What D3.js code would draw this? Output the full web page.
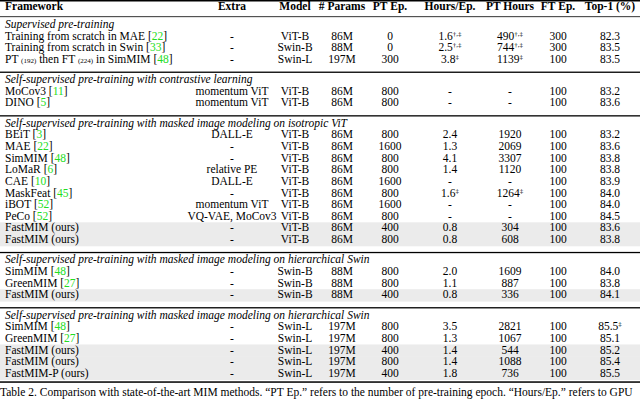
<!DOCTYPE html><html><head><meta charset="utf-8"><script src="https://cdn.jsdelivr.net/npm/d3@7"></script>
<style>body{margin:0;background:#fff}svg text{font-family:'Liberation Serif','Times New Roman',Times,'Nimbus Roman',serif;font-size:11.5px;fill:#000}</style></head><body><svg id="s" width="640" height="400"></svg>
<script>
const headers=["Framework","Extra","Model","# Params","PT Ep.","Hours/Ep.","PT Hours","FT Ep.","Top-1 (%)"];
const sections=["Supervised pre-training","Self-supervised pre-training with contrastive learning","Self-supervised pre-training with masked image modeling on isotropic ViT","Self-supervised pre-training with masked image modeling on hierarchical Swin","Self-supervised pre-training with masked image modeling on hierarchical Swin"];
// [name, ref, extra, model, params, ptep, hours, hoursSup, pthours, pthSup, ftep, top1, top1Sup, highlighted]
const group0=[["Training from scratch in MAE","22","-","ViT-B","86M","0","1.6","†,‡","490","†,‡","300","82.3","",0],
["Training from scratch in Swin","33","-","Swin-B","88M","0","2.5","†,‡","744","†,‡","300","83.5","",0],
["PT|192|then FT|224|in SimMIM","48","-","Swin-L","197M","300","3.8","‡","1139","‡","100","83.5","",0]];
const group1=[["MoCov3","11","momentum ViT","ViT-B","86M","800","-","","-","","100","83.2","",0],
["DINO","5","momentum ViT","ViT-B","86M","800","-","","-","","100","83.6","",0]];
const group2=[["BEiT","3","DALL-E","ViT-B","86M","800","2.4","","1920","","100","83.2","",0],
["MAE","22","-","ViT-B","86M","1600","1.3","","2069","","100","83.6","",0],
["SimMIM","48","-","ViT-B","86M","800","4.1","","3307","","100","83.8","",0],
["LoMaR","6","relative PE","ViT-B","86M","800","1.4","","1120","","100","83.8","",0],
["CAE","10","DALL-E","ViT-B","86M","1600","-","","-","","100","83.9","",0],
["MaskFeat","45","-","ViT-B","86M","800","1.6","‡","1264","‡","100","84.0","",0],
["iBOT","52","momentum ViT","ViT-B","86M","1600","-","","-","","100","84.0","",0],
["PeCo","52","VQ-VAE, MoCov3","ViT-B","86M","800","-","","-","","100","84.5","",0],
["FastMIM (ours)","","-","ViT-B","86M","400","0.8","","304","","100","83.6","",1],
["FastMIM (ours)","","-","ViT-B","86M","800","0.8","","608","","100","83.8","",1]];
const group3=[["SimMIM","48","-","Swin-B","88M","800","2.0","","1609","","100","84.0","",0],
["GreenMIM","27","-","Swin-B","88M","800","1.1","","887","","100","83.8","",0],
["FastMIM (ours)","","-","Swin-B","88M","400","0.8","","336","","100","84.1","",1]];
const group4=[["SimMIM","48","-","Swin-L","197M","800","3.5","","2821","","100","85.5","‡",0],
["GreenMIM","27","-","Swin-L","197M","800","1.3","","1067","","100","85.1","",0],
["FastMIM (ours)","","-","Swin-L","197M","400","1.4","","544","","100","85.2","",1],
["FastMIM (ours)","","-","Swin-L","197M","800","1.4","","1088","","100","85.4","",1],
["FastMIM-P (ours)","","-","Swin-L","197M","400","1.8","","736","","100","85.5","",1]];
const groups=[group0,group1,group2,group3,group4];
const caption="Table 2. Comparison with state-of-the-art MIM methods. “PT Ep.” refers to the number of pre-training epoch. “Hours/Ep.” refers to GPU";
const colX=[5,232,295,342,390,450,510,558,610];

const svg=d3.select("#s");
const rh=12.35;
let items=[],u=0;
groups.forEach((g,gi)=>{u+=gi?0.75:0.55;items.push({t:"line",u:u-0.35,thin:gi>0});items.push({t:"sec",u:u+0.3,s:sections[gi]});u+=1;g.forEach(r=>{items.push({t:"row",u:u+0.3,r});u+=1;});});
const y=d3.scaleLinear().domain([0,u]).range([14,381]);
const rowY=v=>y(v)+4;
headers.forEach((h,i)=>svg.append("text").attr("x",colX[i]).attr("y",10).attr("text-anchor",i?"middle":"start").attr("font-weight","bold").text(h));
svg.append("rect").attr("x",0).attr("y",0).attr("width",640).attr("height",1.5).attr("fill","#000");
items.filter(d=>d.t=="row"&&d.r[13]).forEach(d=>svg.append("rect").attr("x",0).attr("width",640).attr("y",y(d.u-0.5)+0.7).attr("height",rh).attr("fill","#ebebeb"));
items.forEach(d=>{
 if(d.t=="line"){svg.append("rect").attr("x",0).attr("width",640).attr("y",y(d.u)).attr("height",d.thin?1.3:0.8).attr("fill","#000");}
 if(d.t=="sec"){svg.append("text").attr("x",5).attr("y",rowY(d.u)).attr("font-style","italic").text(d.s);}
 if(d.t=="row"){const r=d.r,yy=rowY(d.u);
  const t=svg.append("text").attr("x",5).attr("y",yy);
  const parts=r[0].split("|");
  if(parts.length>1){t.append("tspan").text(parts[0]+" ");t.append("tspan").attr("font-size","7px").text("("+parts[1]+")");t.append("tspan").text(" "+parts[2]+" ");t.append("tspan").attr("font-size","7px").text("("+parts[3]+")");t.append("tspan").text(" "+parts[4]);}
  else t.append("tspan").text(r[0]);
  if(r[1]){t.append("tspan").text(" [");t.append("tspan").style("fill","#22dd22").text(r[1]);t.append("tspan").text("]");}
  const cells=[[1,r[2],""],[2,r[3],""],[3,r[4],""],[4,r[5],""],[5,r[6],r[7]],[6,r[8],r[9]],[7,r[10],""],[8,r[11],r[12]]];
  cells.forEach(([c,v,s])=>{const tt=svg.append("text").attr("x",colX[c]).attr("y",yy).attr("text-anchor","middle");tt.append("tspan").text(v);if(s){tt.append("tspan").attr("font-size","7px").attr("dy",-4).text(s);}});
 }
});
svg.append("rect").attr("x",0).attr("width",640).attr("y",y(u)+0.3).attr("height",1.5).attr("fill","#000");
svg.append("text").attr("x",0).attr("y",396).text(caption);
</script></body></html>
